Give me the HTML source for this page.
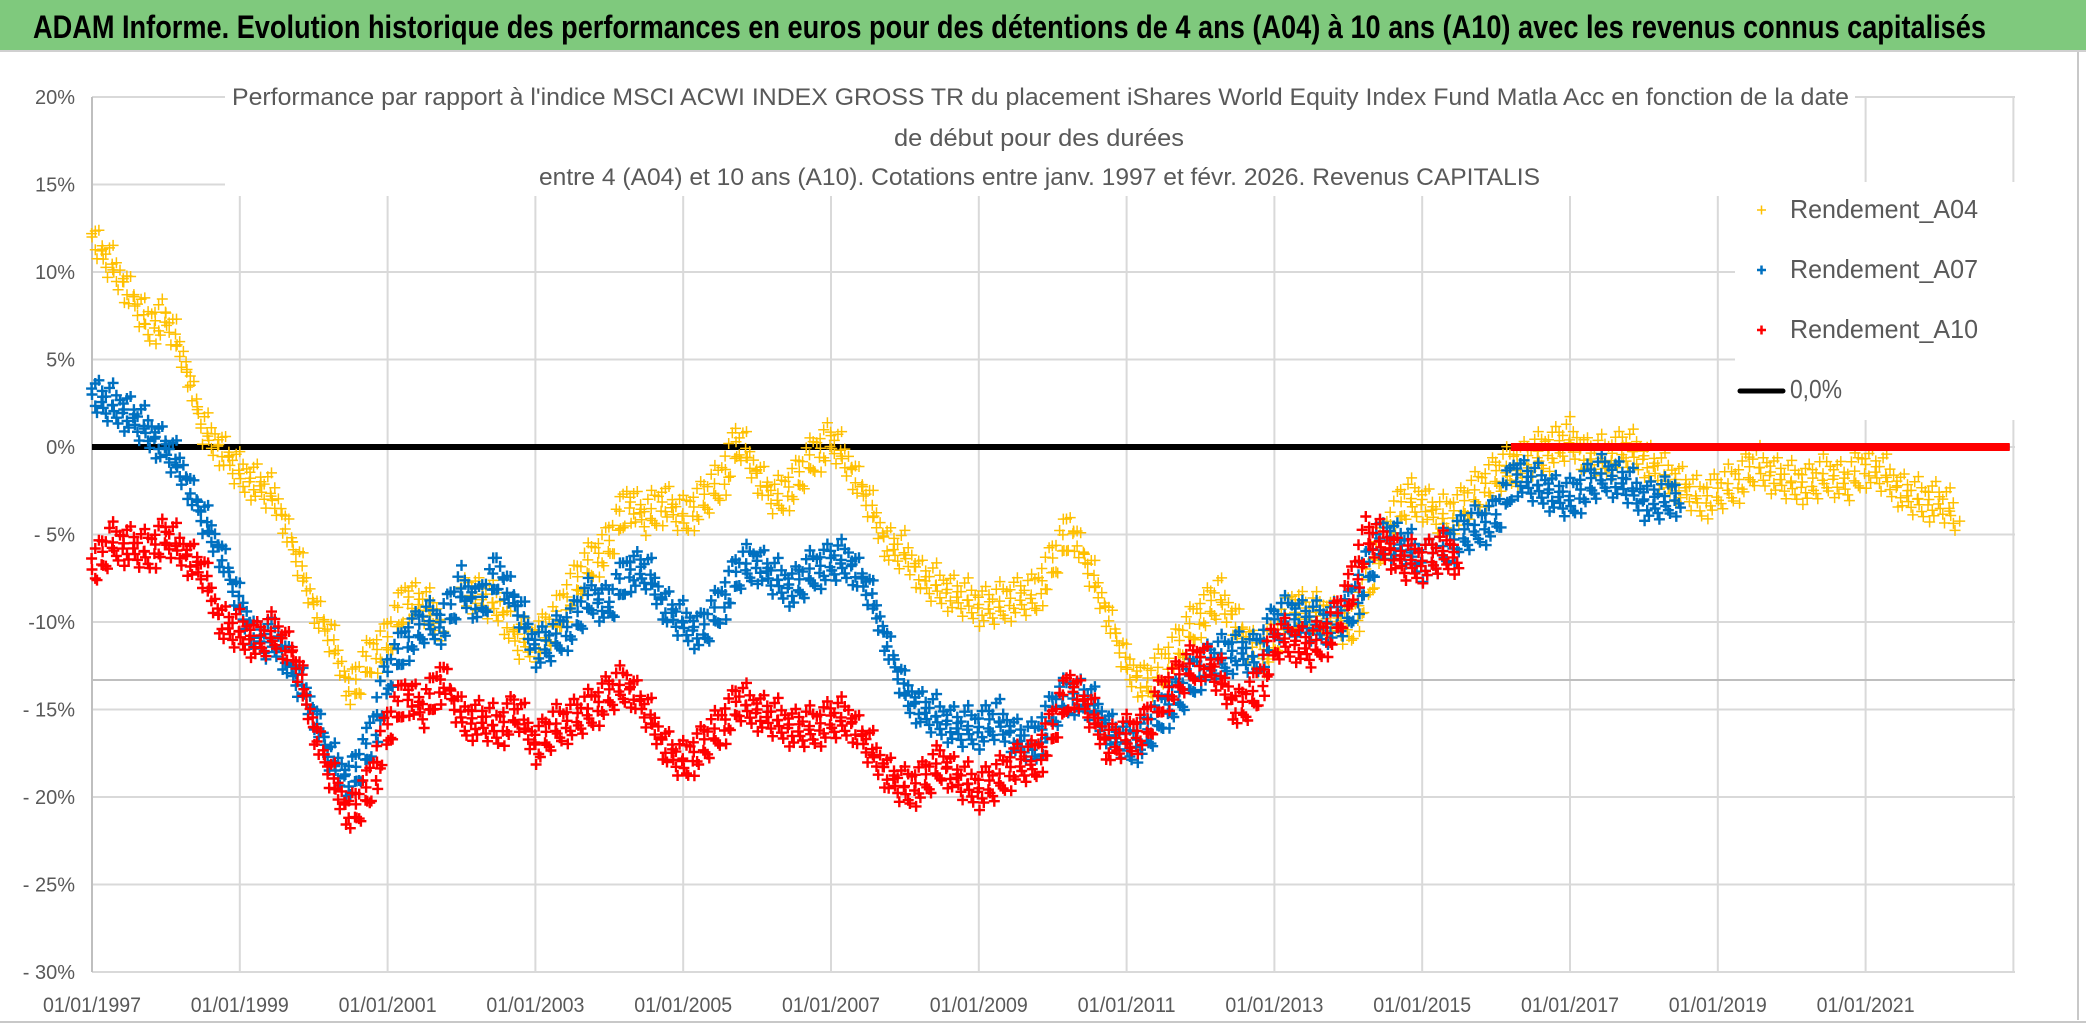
<!DOCTYPE html>
<html><head><meta charset="utf-8"><style>
html,body{margin:0;padding:0;background:#fff}
svg{display:block}
text{font-family:"Liberation Sans Narrow","Liberation Sans",sans-serif}
</style></head><body>
<svg id="chart" width="2086" height="1031" viewBox="0 0 2086 1031">
<rect x="0" y="0" width="2086" height="1031" fill="#fff"/>
<rect x="0" y="0" width="2086" height="50" fill="#7fc97d"/>
<line x1="0" y1="51" x2="2086" y2="51" stroke="#d0d0d0" stroke-width="2"/>
<text x="33" y="38" font-size="32" font-weight="bold" fill="#000" textLength="1953" lengthAdjust="spacingAndGlyphs">ADAM Informe. Evolution historique des performances en euros pour des détentions de 4 ans (A04) à 10 ans (A10) avec les revenus connus capitalisés</text>
<line x1="2078" y1="52" x2="2078" y2="1020" stroke="#c8c8c8" stroke-width="2"/>
<line x1="0" y1="1022" x2="2086" y2="1022" stroke="#c8c8c8" stroke-width="2"/>
<g id="grid"></g>
<line x1="92" y1="680" x2="2015" y2="680" stroke="#bfbfbf" stroke-width="2"/>
<g id="yaxis"></g>
<g id="xaxis"></g>
<rect x="225" y="78" width="1630" height="118" fill="#fff"/>
<g fill="#595959" font-size="24">
<text x="232" y="105" textLength="1617" lengthAdjust="spacingAndGlyphs">Performance par rapport à l'indice MSCI ACWI INDEX GROSS TR  du placement iShares World Equity Index Fund Matla Acc en fonction de la date</text>
<text x="894" y="146" textLength="290" lengthAdjust="spacingAndGlyphs">de début pour des durées</text>
<text x="539" y="185" textLength="1001" lengthAdjust="spacingAndGlyphs">entre 4 (A04) et 10 ans (A10). Cotations entre janv. 1997 et févr. 2026. Revenus CAPITALIS</text>
</g>
<rect x="1735" y="182" width="280" height="238" fill="#fff"/>
<g id="series"></g>
<g font-size="26" fill="#595959">
<g><path d="M1757 210h9M1761.5 205.5v9" stroke="#FFC000" stroke-width="1.5"/><text x="1790" y="218" textLength="188" lengthAdjust="spacingAndGlyphs">Rendement_A04</text></g>
<g><path d="M1757 270h9M1761.5 265.5v9" stroke="#0070C0" stroke-width="2.5"/><text x="1790" y="278" textLength="188" lengthAdjust="spacingAndGlyphs">Rendement_A07</text></g>
<g><path d="M1757 330h9M1761.5 325.5v9" stroke="#FF0000" stroke-width="2.5"/><text x="1790" y="338" textLength="188" lengthAdjust="spacingAndGlyphs">Rendement_A10</text></g>
<g><line x1="1740" y1="391" x2="1783" y2="391" stroke="#000" stroke-width="5" stroke-linecap="round"/><text x="1790" y="398" textLength="52" lengthAdjust="spacingAndGlyphs">0,0%</text></g>
</g>
</svg>
<script>
const yTicks=[20,15,10,5,0,-5,-10,-15,-20,-25,-30];
const yTickLabels=["20%","15%","10%","5%","0%","- 5%","-10%","- 15%","- 20%","- 25%","- 30%"];
const xTickYears=[1997,1999,2001,2003,2005,2007,2009,2011,2013,2015,2017,2019,2021];
const xTickLabels=["01/01/1997","01/01/1999","01/01/2001","01/01/2003","01/01/2005","01/01/2007","01/01/2009","01/01/2011","01/01/2013","01/01/2015","01/01/2017","01/01/2019","01/01/2021"];
const a04Start=1997.0;
const a04Values=[12,10.5,9,7,7.5,5,1,0,-1.5,-2,-3,-6,-9,-11,-14,-12,-11,-8.5,-9,-10,-8,-8.5,-9,-11,-11,-10,-8,-6.5,-5.5,-3,-4,-3,-4,-3,-2,0.5,-1.5,-3,-2,-0.5,0.5,-1,-3,-5.5,-6,-7.5,-8,-8.5,-9,-9,-8.5,-8.5,-6.5,-4.5,-7,-9.5,-12.5,-13.5,-12.5,-11,-9.5,-8.5,-10,-12,-11,-9,-9.5,-9.5,-10.5,-8,-5,-3,-3,-4,-3.5,-2.5,-1.5,-1,-0.5,0,0.5,-0.5,-0.5,0,-0.5,-1.5,-2,-3,-2.5,-2,-1,-1.5,-2,-2,-1.5,-2,-1,-1.5,-2.5,-3,-3,-4];
const a07Start=1997.0;
const a07Values=[3,2.5,2,1,0,-1.5,-4,-6,-9,-11,-11,-13,-15,-18,-19,-17,-13,-11,-10,-10,-8,-9,-7,-9,-11.5,-11,-10,-8.5,-9,-7,-7,-9,-10,-10.5,-9,-7,-6.5,-7.5,-8,-7,-6.5,-6.5,-8,-11,-14,-15,-15.5,-16,-16,-15.5,-16.5,-17,-15,-14,-14.5,-16,-17,-16.5,-15,-14,-12.5,-12,-11.5,-12,-10,-9.5,-10,-10,-9.5,-7,-5,-5.5,-6.5,-6,-5,-4.5,-4,-1.5,-2,-2.5,-3,-2,-1.5,-2,-3,-3,-2.5];
const a10Start=1997.0;
const a10Values=[-7,-5.5,-5.5,-6,-5,-6,-7,-10,-10.5,-11,-10.5,-12,-16,-19,-21,-19.5,-16,-14,-15,-13,-15.5,-15.5,-16,-15,-17,-16,-15.5,-15,-14,-13.5,-15,-17,-18,-17,-16,-14.5,-15,-15.5,-16,-16,-15.5,-15.5,-17,-18.5,-19.5,-19,-18,-19,-19.5,-19,-18,-18,-16,-13.5,-15,-17,-16.5,-16,-14,-13,-12,-13,-15,-14,-11,-11,-11.5,-10.5,-8.5,-5,-5.5,-6.5,-6.5,-6,-6];
const a10ZeroRange=[2016.2,2022.95];
const zeroLineRange=[1997.0,2016.2];
const step=0.25;

const NS="http://www.w3.org/2000/svg";
const X0=92,PXYR=73.9,Y0=447,PXPCT=17.5;
function xs(yr){return X0+(yr-1997)*PXYR;}
function ys(v){return Y0-v*PXPCT;}
function mk(tag,attrs,parent){const e=document.createElementNS(NS,tag);for(const k in attrs)e.setAttribute(k,attrs[k]);parent.appendChild(e);return e;}

const grid=document.getElementById('grid');
yTicks.forEach(v=>{const l=mk('line',{x1:92,x2:2015,y1:ys(v),y2:ys(v),stroke:'#d9d9d9','stroke-width':2},grid);

});
xTickYears.concat([2023]).forEach(yr=>{const l=mk('line',{x1:xs(yr),x2:xs(yr),y1:ys(20),y2:ys(-30),stroke:'#d9d9d9','stroke-width':2},grid);

});
mk('line',{x1:92,x2:92,y1:ys(20),y2:ys(-30),stroke:'#bfbfbf','stroke-width':2},grid);

const ya=document.getElementById('yaxis');
yTicks.forEach((v,i)=>{const t=mk('text',{x:75,y:ys(v)+7,'text-anchor':'end','font-size':20,fill:'#595959'},ya);t.textContent=yTickLabels[i];

});
const xa=document.getElementById('xaxis');
xTickYears.forEach((yr,i)=>{const t=mk('text',{x:xs(yr),y:1012,'text-anchor':'middle','font-size':21,fill:'#595959',textLength:98,lengthAdjust:'spacingAndGlyphs'},xa);t.textContent=xTickLabels[i];

});

const ser=document.getElementById('series');
const zl=mk('line',{x1:xs(zeroLineRange[0]),x2:xs(a10ZeroRange[1]),y1:ys(0),y2:ys(0),stroke:'#000','stroke-width':6},ser);


const offs=[0,12,-8,18,-15,5,-20,10,-3,15,-11,22,-6,3,-17,8,-24,14,-1,19,-13,6,-9,25];
const hoffs=[0,2,-3,1,-2,3,-1,2];
function drawSeries(start,vals,color,sw,name){
  let d='';let k=0;
  for(let i=0;i<vals.length-1;i++){
    const xa1=xs(start+i*step),xb=xs(start+(i+1)*step);
    const n=Math.max(1,Math.round((xb-xa1)/1.3));
    for(let j=0;j<n;j++){const f=j/n;const x=xa1+(xb-xa1)*f+hoffs[k%hoffs.length];const y=ys(vals[i]+(vals[i+1]-vals[i])*f)+offs[k%offs.length]*0.9;k++;
      d+='M'+(x-5.5).toFixed(1)+' '+y.toFixed(1)+'h11M'+x.toFixed(1)+' '+(y-5.5).toFixed(1)+'v11';}
  }
  const p=mk('path',{d:d,stroke:color,'stroke-width':sw,fill:'none'},ser);
  
  
}
drawSeries(a04Start,a04Values,'#FFC000',1.5,'series-a04');
drawSeries(a07Start,a07Values,'#0070C0',2.4,'series-a07');
drawSeries(a10Start,a10Values,'#FF0000',2.4,'series-a10');
const rz=mk('line',{x1:xs(a10ZeroRange[0]),x2:xs(a10ZeroRange[1]),y1:ys(0),y2:ys(0),stroke:'#FF0000','stroke-width':8},ser);


</script>
</body></html>
